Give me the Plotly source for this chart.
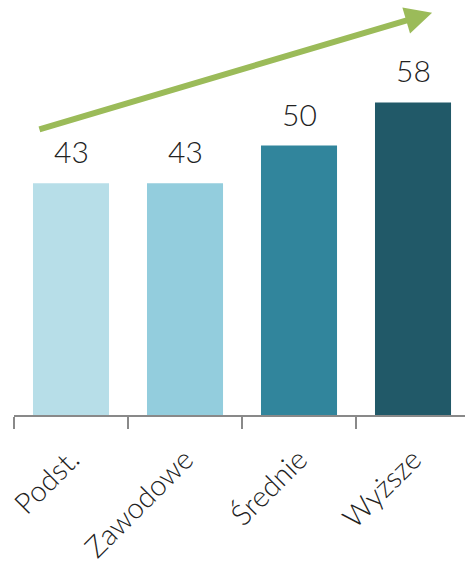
import plotly.graph_objects as go

categories = ["Podst.", "Zawodowe", "Średnie", "Wyższe"]
values = [43, 43, 50, 58]
bar_colors = ["#b7dee8", "#93cddd", "#31859c", "#215968"]

FONT = "Lato"

fig = go.Figure()
fig.add_trace(go.Bar(
    x=categories, y=values,
    marker=dict(color=bar_colors, line=dict(width=0)),
    width=0.667,
    hoverinfo="skip",
))

for c, v in zip(categories, values):
    fig.add_annotation(
        x=c, y=v, text=str(v), showarrow=False,
        xref="x", yref="y", yanchor="bottom", yshift=12,
        font=dict(family=FONT, size=30, color="#222222", weight=300),
    )

# trend arrow
fig.add_annotation(
    xref="x domain", yref="y domain", axref="x domain", ayref="y domain",
    x=0.927, y=0.969, ax=0.053, ay=0.687,
    text="", showarrow=True,
    arrowhead=2, arrowsize=0.9, arrowwidth=6, arrowcolor="#9bbb59",
)

fig.update_layout(
    width=465, height=569,
    margin=dict(l=14, r=0, t=0, b=154, autoexpand=False),
    paper_bgcolor="white", plot_bgcolor="white",
    showlegend=False,
    xaxis=dict(
        type="category",
        range=[-0.5, 3.456],
        tickson="boundaries",
        ticks="outside", ticklen=12, tickwidth=2, tickcolor="#898989",
        showline=True, linecolor="#898989", linewidth=2,
        showgrid=False, zeroline=False,
        automargin=False,
        tickangle=-45,
        tickfont=dict(family=FONT, size=29, color="#222222", weight=300),
        ticklabelstandoff=14,
    ),
    yaxis=dict(
        range=[0, 77], visible=False, showgrid=False, zeroline=False,
    ),
)

fig.write_html(
    "out.html",
    config={"displayModeBar": False},
    post_script="document.body.style.margin='0';",
)
